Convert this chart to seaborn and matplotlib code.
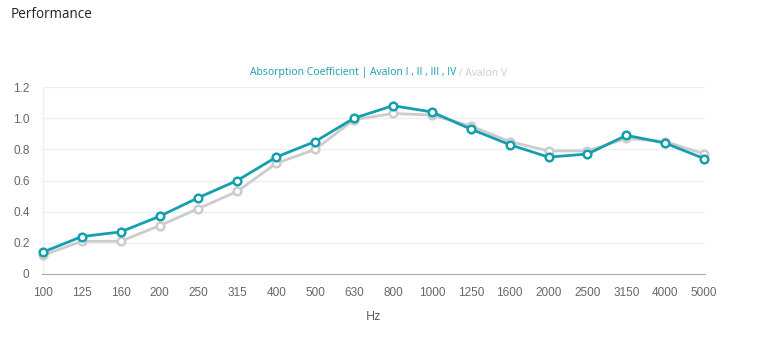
import pandas as pd
import seaborn as sns
import matplotlib.pyplot as plt

# frequency bands and absorption values
freqs = ["100", "125", "160", "200", "250", "315", "400", "500", "630", "800",
         "1000", "1250", "1600", "2000", "2500", "3150", "4000", "5000"]
avalon_1_4 = [0.14, 0.24, 0.27, 0.37, 0.49, 0.60, 0.75, 0.85, 1.00, 1.08,
              1.04, 0.93, 0.83, 0.75, 0.77, 0.89, 0.84, 0.74]
avalon_5 = [0.12, 0.21, 0.21, 0.31, 0.42, 0.53, 0.71, 0.80, 0.99, 1.03,
            1.02, 0.95, 0.85, 0.79, 0.79, 0.87, 0.85, 0.77]
yticks = [0, 0.2, 0.4, 0.6, 0.8, 1.0, 1.2]
ytick_labels = ["0", "0.2", "0.4", "0.6", "0.8", "1.0", "1.2"]

teal = "#159fae"
grey = "#cccccc"

df = pd.DataFrame({"Hz": freqs * 2,
                   "value": avalon_5 + avalon_1_4,
                   "series": ["Avalon V"] * len(freqs) + ["Avalon I-IV"] * len(freqs)})

sns.set_style("white")
fig = plt.figure(figsize=(7.66, 3.59), dpi=100)
ax = fig.add_axes([42 / 766, 85 / 359, 663 / 766, 187 / 359])

sns.lineplot(data=df, x="Hz", y="value", hue="series", sort=False,
             palette={"Avalon V": grey, "Avalon I-IV": teal},
             marker="o", markersize=5.5, markerfacecolor="white",
             markeredgewidth=1.8, linewidth=2, legend=False, ax=ax)
# marker edges take the line colour, and end points are not cut off
for line in ax.lines:
    line.set_markeredgecolor(line.get_color())
    line.set_clip_on(False)

ax.set_xlim(-0.02, len(freqs) - 0.98)
ax.set_ylim(0, 1.2)
ax.set_yticks(yticks)
ax.set_yticklabels(ytick_labels)
ax.grid(axis="y", color="#efefef", linewidth=1)
ax.axvline(0, color="#efefef", linewidth=1, zorder=0)
for s in ["top", "right", "left"]:
    ax.spines[s].set_visible(False)
ax.spines["bottom"].set_color("#aaaaaa")
ax.tick_params(axis="both", length=0, labelsize=8.5, labelcolor="#666666")
ax.tick_params(axis="x", pad=9)
ax.tick_params(axis="y", pad=9)
for lab in ax.get_xticklabels() + ax.get_yticklabels():
    lab.set_family("Liberation Sans")
ax.set_xlabel("Hz", fontsize=9, color="#555555", family="Open Sans", labelpad=8)
ax.set_ylabel("")

fig.text(11 / 766, 1 - 14 / 359, "Performance", fontsize=9.75, color="#222222",
         family="Open Sans", va="center", ha="left")
t1 = fig.text(250 / 766, 1 - 73 / 359, "Absorption Coefficient | Avalon I , II , III , IV",
              fontsize=7.5, color=teal, family="Open Sans", va="center", ha="left")
fig.canvas.draw()
bb = t1.get_window_extent()
fig.text(bb.x1 / fig.bbox.width, 1 - 73 / 359, " / Avalon V", fontsize=7.5,
         color="#cccccc", family="Open Sans", va="center", ha="left")

fig.savefig("out.png", dpi=100)
